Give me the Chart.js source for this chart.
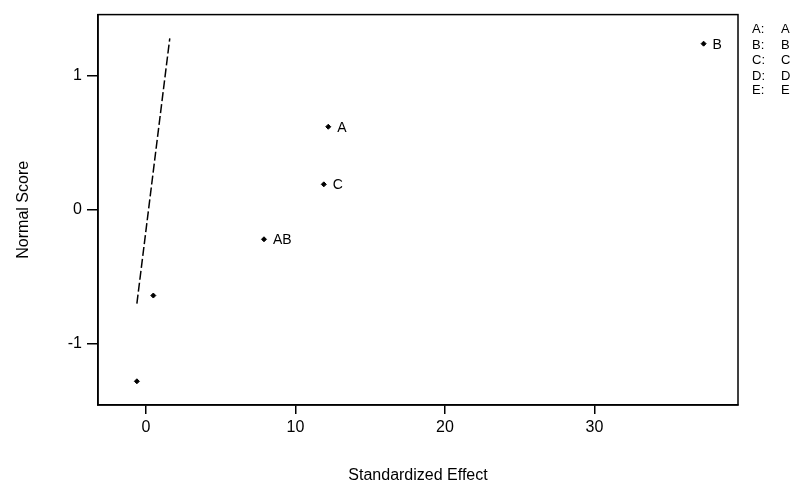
<!DOCTYPE html>
<html>
<head>
<meta charset="utf-8">
<script src="https://cdn.jsdelivr.net/npm/chart.js@4"></script>
<style>
  html, body { margin: 0; padding: 0; background: #fff; }
  #wrap { width: 806px; height: 489px; }
</style>
</head>
<body>
<div id="wrap"><canvas id="chart" width="806" height="489"></canvas></div>
<script>
// effects
const effectNames = ['B', 'A', 'C', 'AB', '', ''];
const effectX = [37.3, 12.2, 11.9, 7.9, 0.5, -0.6];
const normalScore = [1.24, 0.62, 0.19, -0.22, -0.64, -1.28];

// reference line (dashed)
const lineX = [-0.6, 1.6];
const lineY = [-0.70, 1.28];

const xTicks = [0, 10, 20, 30];
const yTicks = [-1, 0, 1];

const legendKeys = ['A:', 'B:', 'C:', 'D:', 'E:'];
const legendNames = ['A', 'B', 'C', 'D', 'E'];

const font = 'Liberation Sans, Arial, sans-serif';

const pointLabels = {
  id: 'pointLabels',
  afterDatasetsDraw(chart) {
    const ctx = chart.ctx;
    const meta = chart.getDatasetMeta(1);
    ctx.save();
    ctx.fillStyle = '#000';
    ctx.font = '14px ' + font;
    ctx.textBaseline = 'middle';
    meta.data.forEach((pt, i) => {
      if (effectNames[i]) ctx.fillText(effectNames[i], pt.x + 9, pt.y + 1);
    });
    // frame
    const a = chart.chartArea;
    ctx.strokeStyle = '#000';
    ctx.lineWidth = 1.5;
    ctx.strokeRect(a.left, a.top, a.right - a.left, a.bottom - a.top);
    // legend of factor names
    ctx.font = '13px ' + font;
    const ys = [29, 45, 60, 76, 90];
    legendKeys.forEach((k, i) => {
      ctx.fillText(k, 752, ys[i]);
      ctx.fillText(legendNames[i], 781, ys[i]);
    });
    ctx.restore();
  }
};

new Chart(document.getElementById('chart'), {
  type: 'scatter',
  data: {
    datasets: [
      {
        data: lineX.map((x, i) => ({ x: x, y: lineY[i] })),
        showLine: true,
        borderColor: '#000',
        borderWidth: 1.5,
        borderDash: [9, 3],
        pointRadius: 0
      },
      {
        data: effectX.map((x, i) => ({ x: x, y: normalScore[i] })),
        pointStyle: 'rectRot',
        pointRadius: 2.5,
        backgroundColor: '#000',
        borderColor: '#000',
        borderWidth: 1
      }
    ]
  },
  options: {
    responsive: false,
    animation: false,
    layout: { padding: { top: 14, right: 68, left: 0, bottom: 0 } },
    plugins: { legend: { display: false }, tooltip: { enabled: false } },
    scales: {
      x: {
        min: -3.2,
        max: 39.6,
        afterBuildTicks: s => { s.ticks = xTicks.map(v => ({ value: v })); },
        afterFit: s => { s.height = 84; },
        grid: { drawOnChartArea: false, color: '#000', tickLength: 9, lineWidth: 1.5 },
        border: { color: '#000', width: 1.5 },
        ticks: { color: '#000', font: { family: font, size: 16 }, padding: 4 },
        title: { display: true, text: 'Standardized Effect', color: '#000', font: { family: font, size: 16 }, padding: { top: 14 } }
      },
      y: {
        min: -1.457,
        max: 1.457,
        afterBuildTicks: s => { s.ticks = yTicks.map(v => ({ value: v })); },
        afterFit: s => { s.width = 98; },
        grid: { drawOnChartArea: false, color: '#000', tickLength: 11, lineWidth: 1.5 },
        border: { color: '#000', width: 1.5 },
        ticks: { color: '#000', font: { family: font, size: 16 }, padding: 5 },
        title: { display: true, text: 'Normal Score', color: '#000', font: { family: font, size: 16 }, padding: { top: 14 } }
      }
    }
  },
  plugins: [pointLabels]
});
</script>
</body>
</html>
